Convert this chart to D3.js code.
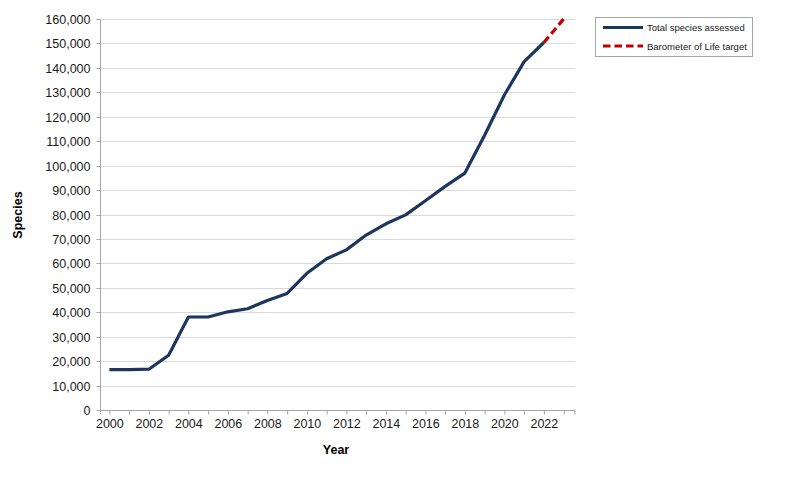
<!DOCTYPE html>
<html><head><meta charset="utf-8">
<script src="https://cdn.jsdelivr.net/npm/d3@7"></script>
<style>body{margin:0;background:#fff}svg{display:block;font-family:"Liberation Sans",Arial,sans-serif}</style>
</head><body><svg id="c" width="800" height="501"></svg>
<script>
const years = d3.range(2000, 2023);
const totalAssessed = [16507,16507,16700,22400,38047,38047,40177,41415,44838,47677,55926,61914,65518,71576,76199,79837,85604,91523,96951,112432,128918,142577,150388];
const targetYears = [2022, 2023];
const targetValues = [150388, 160000];
const yTicks = d3.range(0, 160001, 10000);
const xLabelYears = d3.range(2000, 2023, 2);
const seriesNames = ["Total species assessed", "Barometer of Life target"];
const seriesColors = ["#1c365e", "#c00000"];

const svg = d3.select("#c");
const x = d3.scaleLinear().domain([1999.5, 2023.5]).range([99.5, 573.5]);
const y = d3.scaleLinear().domain([0, 160000]).range([410, 19]);

// gridlines
svg.append("g").selectAll("line").data(yTicks.filter(d=>d>0)).join("line")
  .attr("x1", 100).attr("x2", 575).attr("y1", d=>Math.round(y(d))+0.5).attr("y2", d=>Math.round(y(d))+0.5)
  .attr("stroke", "#d9d9d9").attr("stroke-width", 1);

// y axis
const yAxis = svg.append("g").attr("transform","translate(100.5,0)")
  .call(d3.axisLeft(y).tickValues(yTicks).tickSize(4).tickPadding(6).tickFormat(d3.format(",")));
yAxis.select(".domain").attr("stroke","#a6a6a6").attr("d","M0,19V414");
yAxis.selectAll(".tick line").attr("stroke","#a6a6a6");
yAxis.selectAll(".tick").attr("transform", d=>`translate(0,${Math.round(y(d))+0.5})`);
yAxis.selectAll("text").attr("font-size", 12.5).attr("fill","#1a1a1a").attr("font-family","Liberation Sans, Arial, sans-serif");

// x axis
const xAxis = svg.append("g").attr("transform","translate(0,410.5)")
  .call(d3.axisBottom(x).tickValues(d3.range(2000, 2024)).tickSize(4).tickPadding(5)
    .tickFormat(d => xLabelYears.includes(d) ? d : ""));
xAxis.select(".domain").attr("stroke","#a6a6a6").attr("d","M100,0H575V4");
xAxis.selectAll(".tick line").attr("stroke","#a6a6a6");
xAxis.selectAll("text").attr("font-size", 12.5).attr("fill","#1a1a1a").attr("font-family","Liberation Sans, Arial, sans-serif");

// lines
const line = d3.line().x(d=>x(d[0])).y(d=>y(d[1]));
svg.append("path").datum(years.map((yr,i)=>[yr,totalAssessed[i]]))
  .attr("d", line).attr("fill","none").attr("stroke", seriesColors[0]).attr("stroke-width",3.2).attr("stroke-linejoin","round");
svg.append("path").datum(targetYears.map((yr,i)=>[yr,targetValues[i]]))
  .attr("d", line).attr("fill","none").attr("stroke", seriesColors[1]).attr("stroke-width",3.2).attr("stroke-dasharray","7.5,4");

// axis titles
svg.append("text").attr("x",336).attr("y",454).attr("text-anchor","middle")
  .attr("font-size",12.5).attr("font-weight","bold").attr("fill","#000").text("Year");
svg.append("text").attr("transform","translate(22,215) rotate(-90)").attr("text-anchor","middle")
  .attr("font-size",12.5).attr("font-weight","bold").attr("fill","#000").text("Species");

// legend
const lg = svg.append("g");
lg.append("rect").attr("x",595.5).attr("y",17.5).attr("width",157).attr("height",39)
  .attr("fill","#fff").attr("stroke","#a6a6a6");
seriesNames.forEach((n,i)=>{
  const yy = 27.5 + i*18.5;
  lg.append("line").attr("x1",603).attr("x2",643).attr("y1",yy).attr("y2",yy)
    .attr("stroke",seriesColors[i]).attr("stroke-width",3.2)
    .attr("stroke-dasharray", i===1 ? "7.5,4" : null);
  lg.append("text").attr("x",647).attr("y",yy+3.5).attr("font-size",9.5).attr("fill","#1a1a1a").text(n);
});
</script></body></html>
